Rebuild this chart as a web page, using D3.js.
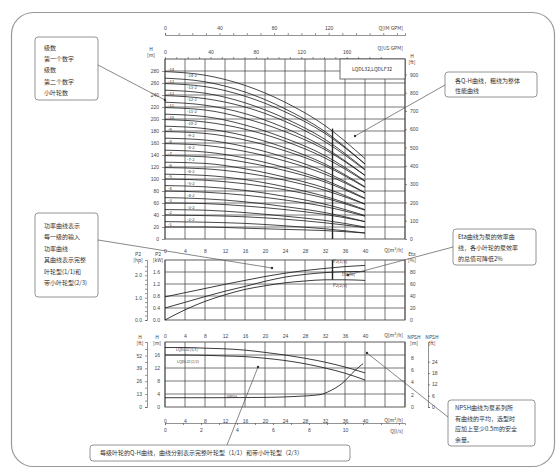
<!DOCTYPE html>
<html>
<head>
<meta charset="utf-8">
<script src="https://cdn.jsdelivr.net/npm/d3@7"></script>
<style>
  body { margin: 0; background: #fff; }
  svg { display: block; font-family: "Noto Sans CJK SC", "Noto Sans", sans-serif; }
</style>
</head>
<body>
<svg id="chart" width="557" height="471"></svg>
<script>
// flow points (m3/h) used for the Q-H curves of the pump series
const qhFlow = [0, 8, 16, 24, 32, 40];
// full impeller curves, label = stages
const fullStages = [14, 13, 12, 11, 10, 9, 8, 7, 6, 5, 4, 3, 2, 1];
const fullHead = [
  [279, 273, 256, 228, 189, 134],
  [259, 254, 238, 212, 176, 125],
  [239, 234, 220, 196, 162, 115],
  [219, 215, 201, 179, 149, 106],
  [199, 195, 183, 163, 135, 96],
  [179, 176, 165, 147, 122, 86],
  [159, 156, 146, 130, 108, 77],
  [139, 137, 128, 114, 95, 67],
  [119, 117, 110, 98, 81, 58],
  [100, 98, 92, 82, 68, 48],
  [80, 78, 73, 65, 54, 38],
  [60, 59, 55, 49, 41, 29],
  [40, 39, 37, 33, 27, 19],
  [20, 20, 18, 16, 14, 10]
];
// curves with two reduced impellers
const reducedStages = [14, 13, 12, 11, 10, 9, 8, 7, 6, 5, 4, 3, 2];
const reducedHead = [
  [268, 262, 245, 217, 179, 125],
  [248, 243, 227, 201, 166, 116],
  [228, 223, 209, 185, 152, 106],
  [208, 204, 190, 168, 139, 97],
  [188, 184, 172, 152, 125, 87],
  [168, 165, 154, 136, 112, 77],
  [148, 145, 135, 119, 98, 68],
  [128, 126, 117, 103, 85, 58],
  [108, 106, 99, 87, 71, 49],
  [89, 87, 81, 71, 58, 39],
  [69, 67, 62, 54, 44, 29],
  [49, 48, 44, 38, 31, 20],
  [29, 28, 26, 22, 17, 10]
];
const bepFlow = 33.5;
const bepHead = 184;
const bepEta = 67;

// power / efficiency
const flowB = [0, 4, 8, 12, 16, 20, 24, 28, 32, 36, 40];
const p2Full = [0.77, 0.91, 1.05, 1.19, 1.32, 1.45, 1.56, 1.65, 1.72, 1.78, 1.82];
const p2Reduced = [0.40, 0.59, 0.78, 0.96, 1.12, 1.29, 1.43, 1.52, 1.58, 1.61, 1.62];
const eta = [0, 17, 31, 42, 51, 57, 62, 65, 67, 67, 66];

// single stage head + NPSH
const headFull = [18.3, 18.3, 18.1, 17.9, 17.5, 16.8, 16.0, 15.0, 13.8, 12.3, 10.5];
const headReduced = [16.0, 16.0, 15.9, 15.7, 15.5, 15.0, 14.3, 13.3, 12.0, 10.4, 8.3];
const npshFlow = [0, 10, 20, 26, 31, 33, 35.4, 38, 39.6];
const npsh = [1.5, 1.5, 1.55, 1.7, 2.0, 2.6, 3.8, 5.9, 7.0];

const qTicks = [0, 4, 8, 12, 16, 20, 24, 28, 32, 36, 40];
const qGrid = d3.range(0, 49, 4);

const svg = d3.select("#chart");
const grey = "#4a4a4a";
const fs = 5;

svg.append("rect").attr("x", 11.5).attr("y", 12.5).attr("width", 543).attr("height", 454)
  .attr("rx", 22).attr("fill", "none").attr("stroke", "#999").attr("stroke-width", 1.2);

const x = d3.scaleLinear().domain([0, 48]).range([165, 405]);
const yMain = d3.scaleLinear().domain([0, 300]).range([239, 59]);
const yMainFt = d3.scaleLinear().domain([0, 300 * 3.281]).range([239, 59]);
const yKw = d3.scaleLinear().domain([0, 2]).range([320, 260]);
const yHp = d3.scaleLinear().domain([0, 2 * 1.341]).range([320, 260]);
const yEta = d3.scaleLinear().domain([0, 100]).range([320, 260]);
const yH1 = d3.scaleLinear().domain([0, 20]).range([407, 342]);
const yH1Ft = d3.scaleLinear().domain([0, 20 * 3.281]).range([407, 342]);
const yNp = d3.scaleLinear().domain([0, 10.5]).range([407, 342]);
const yNpFt = d3.scaleLinear().domain([0, 10.5 * 3.281]).range([407, 342]);

function grid(yScale, yVals) {
  const g = svg.append("g").attr("stroke", grey).attr("stroke-width", 0.75);
  qGrid.forEach(q => g.append("line").attr("x1", x(q)).attr("x2", x(q))
    .attr("y1", yScale.range()[0]).attr("y2", yScale.range()[1]));
  yVals.forEach(v => g.append("line").attr("x1", x(0)).attr("x2", x(48))
    .attr("y1", yScale(v)).attr("y2", yScale(v)));
  g.append("rect").attr("x", x(0)).attr("y", yScale.range()[1]).attr("width", x(48) - x(0))
    .attr("height", yScale.range()[0] - yScale.range()[1]).attr("fill", "none").attr("stroke-width", 0.9);
}

function styleAxis(g) {
  g.selectAll("text").attr("font-size", fs).attr("fill", "#444");
  g.selectAll("line").attr("stroke", grey).attr("stroke-width", 0.6);
  g.select(".domain").attr("stroke", grey).attr("stroke-width", 0.6);
}

function qAxis(yPos) {
  svg.append("g").attr("transform", `translate(0,${yPos})`)
    .call(d3.axisBottom(x).tickValues(qTicks).tickSize(0).tickPadding(4))
    .call(g => g.select(".domain").remove())
    .call(styleAxis);
  svg.append("text").attr("x", 403).attr("y", yPos + 7).attr("text-anchor", "end")
    .attr("font-size", fs).attr("fill", "#444").text("Q[m³/h]");
}

function label(xp, yp, lines, anchor) {
  lines.forEach((t, i) => svg.append("text").attr("x", xp).attr("y", yp + i * 5.5)
    .attr("text-anchor", anchor || "middle").attr("font-size", fs).attr("fill", "#444").text(t));
}

// ---- main Q-H chart
grid(yMain, d3.range(20, 300, 20));
svg.append("g").attr("transform", "translate(165,0)")
  .call(d3.axisLeft(yMain).tickValues(d3.range(0, 300, 20)).tickSize(3).tickPadding(3))
  .call(g => g.select(".domain").remove()).call(styleAxis);
svg.append("g").attr("transform", "translate(405,0)")
  .call(d3.axisRight(yMainFt).tickValues(d3.range(0, 1000, 100)).tickSize(2).tickPadding(3))
  .call(g => g.select(".domain").remove()).call(styleAxis);
label(151, 51, ["H", "[m]"]);
label(412, 58, ["H", "[ft]"]);
qAxis(245);

// top flow axes
const xIm = d3.scaleLinear().domain([0, 48 / 0.2728]).range([165, 405]);
const xUs = d3.scaleLinear().domain([0, 48 / 0.2271]).range([165, 405]);
svg.append("g").attr("transform", "translate(0,35)")
  .call(d3.axisTop(xIm).tickValues(d3.range(0, 176, 10)).tickSize(2).tickFormat(d => d % 40 === 0 && d < 160 ? d : ""))
  .call(styleAxis);
svg.append("g").attr("transform", "translate(0,59)")
  .call(d3.axisTop(xUs).tickValues(d3.range(0, 200, 10)).tickSize(2).tickFormat(d => d % 40 === 0 ? d : ""))
  .call(g => g.select(".domain").remove()).call(styleAxis);
svg.append("text").attr("x", 403).attr("y", 30).attr("text-anchor", "end").attr("font-size", fs).attr("fill", "#444").text("Q[IM GPM]");
svg.append("text").attr("x", 403).attr("y", 50).attr("text-anchor", "end").attr("font-size", fs).attr("fill", "#444").text("Q[US GPM]");

// model box
svg.append("rect").attr("x", 340).attr("y", 59).attr("width", 65).attr("height", 20)
  .attr("fill", "#fff").attr("stroke", grey).attr("stroke-width", 0.8);
svg.append("text").attr("x", 372).attr("y", 71).attr("text-anchor", "middle").attr("font-size", fs)
  .attr("fill", "#333").text("LQDL32,LQDLF32");

const qhLine = d3.line().x((d, i) => x(qhFlow[i])).y(d => yMain(d)).curve(d3.curveMonotoneX);
const curves = svg.append("g").attr("fill", "none").attr("stroke", "#1a1a1a").attr("stroke-width", 0.8);
fullHead.forEach(h => curves.append("path").attr("d", qhLine(h)));
reducedHead.forEach(h => curves.append("path").attr("d", qhLine(h)));

fullStages.forEach((s, i) => svg.append("text").attr("x", 168).attr("y", yMain(fullHead[i][0]) - 1)
  .attr("font-size", 4.2).attr("fill", "#333").text("-" + s));
reducedStages.forEach((s, i) => svg.append("text").attr("x", 187).attr("y", yMain(reducedHead[i][0]) - 1)
  .attr("font-size", 4.2).attr("fill", "#333").text("-" + s + "-2"));

// ---- P2 / Eta chart
grid(yKw, [0.4, 0.8, 1.2, 1.6]);
svg.append("g").attr("transform", "translate(165,0)")
  .call(d3.axisLeft(yKw).tickValues([0, 0.4, 0.8, 1.2, 1.6]).tickFormat(d3.format(".1f")).tickSize(0).tickPadding(5))
  .call(g => g.select(".domain").remove()).call(styleAxis);
svg.append("g").attr("transform", "translate(147,0)")
  .call(d3.axisLeft(yHp).tickValues(d3.range(0, 2.6, 0.2)).tickSize(2).tickPadding(3)
    .tickFormat(d => Math.abs(d - Math.round(d)) < 0.01 ? d3.format(".1f")(d) : ""))
  .call(styleAxis);
svg.append("g").attr("transform", "translate(405,0)")
  .call(d3.axisRight(yEta).tickValues([0, 20, 40, 60, 80]).tickSize(0).tickPadding(5))
  .call(g => g.select(".domain").remove()).call(styleAxis);
label(138, 256, ["P2", "[hp]"]);
label(158, 256, ["P2", "[kW]"]);
label(412, 256, ["Eta", "[%]"]);
qAxis(330);

const lineB = scale => d3.line().x((d, i) => x(flowB[i])).y(d => scale(d)).curve(d3.curveMonotoneX);
const mid = svg.append("g").attr("fill", "none").attr("stroke", "#1a1a1a").attr("stroke-width", 0.85);
mid.append("path").attr("d", lineB(yKw)(p2Full));
mid.append("path").attr("d", lineB(yKw)(p2Reduced));
mid.append("path").attr("d", lineB(yEta)(eta));
svg.append("text").attr("x", 333).attr("y", 263).attr("font-size", 4.2).attr("fill", "#333").text("P2(1/1)");
svg.append("text").attr("x", 342).attr("y", 276).attr("font-size", 4.2).attr("fill", "#333").text("Eta(%)");
svg.append("text").attr("x", 333).attr("y", 287).attr("font-size", 4.2).attr("fill", "#333").text("P2(2/3)");

// best efficiency marker line
svg.append("line").attr("x1", x(bepFlow)).attr("x2", x(bepFlow))
  .attr("y1", yMain(bepHead)).attr("y2", yMain(0)).attr("stroke", "#222").attr("stroke-width", 1.4);
svg.append("line").attr("x1", x(bepFlow)).attr("x2", x(bepFlow)).attr("y1", yEta(100)).attr("y2", yEta(bepEta))
  .attr("stroke", "#222").attr("stroke-width", 1.4);

// ---- single stage H / NPSH chart
grid(yH1, [4, 8, 12, 16]);
svg.append("g").attr("transform", "translate(165,0)")
  .call(d3.axisLeft(yH1).tickValues([0, 4, 8, 12, 16]).tickSize(0).tickPadding(5))
  .call(g => g.select(".domain").remove()).call(styleAxis);
svg.append("g").attr("transform", "translate(147,0)")
  .call(d3.axisLeft(yH1Ft).tickValues(d3.range(0, 60, 6.5)).tickSize(2).tickPadding(3)
    .tickFormat(d => Math.round(d) % 13 === 0 ? Math.round(d) : ""))
  .call(styleAxis);
svg.append("g").attr("transform", "translate(405,0)")
  .call(d3.axisRight(yNp).tickValues([0, 2, 4, 6, 8]).tickSize(0).tickPadding(6))
  .call(g => g.select(".domain").remove()).call(styleAxis);
svg.append("g").attr("transform", "translate(428,0)")
  .call(d3.axisRight(yNpFt).tickValues([0, 6, 12, 18, 24]).tickSize(2).tickPadding(2))
  .call(styleAxis);
label(140, 339, ["H", "[ft]"]);
label(157, 339, ["H", "[m]"]);
label(414, 339, ["NPSH", "[m]"]);
label(432, 339, ["NPSH", "[ft]"]);
qAxis(415);

const xLs = d3.scaleLinear().domain([0, 48 / 3.6]).range([165, 405]);
svg.append("g").attr("transform", "translate(0,423)")
  .call(d3.axisBottom(xLs).tickValues(d3.range(0, 13.3, 1)).tickSize(2).tickPadding(3)
    .tickFormat(d => d % 2 === 0 && d <= 10 ? d : ""))
  .call(styleAxis);
svg.append("text").attr("x", 403).attr("y", 433).attr("text-anchor", "end").attr("font-size", fs).attr("fill", "#444").text("Q[l/s]");

const low = svg.append("g").attr("fill", "none").attr("stroke", "#1a1a1a").attr("stroke-width", 0.85);
low.append("path").attr("d", lineB(yH1)(headFull));
low.append("path").attr("d", lineB(yH1)(headReduced));
low.append("path").attr("d", d3.line().x((d, i) => x(npshFlow[i])).y(d => yNp(d)).curve(d3.curveMonotoneX)(npsh));
svg.append("text").attr("x", 176).attr("y", 351).attr("font-size", 3.8).attr("fill", "#333").text("LQDL32(1/1)");
svg.append("text").attr("x", 177).attr("y", 363).attr("font-size", 3.8).attr("fill", "#333").text("LQDL32(2/3)");
svg.append("text").attr("x", 227).attr("y", 398).attr("font-size", 3.8).attr("fill", "#333").text("NPSH");

// ---- annotations
function note(bx, by, bw, bh, lines, tx, ty, lineGap) {
  svg.append("rect").attr("x", bx).attr("y", by).attr("width", bw).attr("height", bh).attr("rx", 3)
    .attr("fill", "#fff").attr("stroke", "#888").attr("stroke-width", 0.9);
  lines.forEach((t, i) => svg.append("text").attr("x", tx).attr("y", ty + i * lineGap)
    .attr("font-size", 6).attr("fill", "#333").text(t));
}
function leader(x1, y1, x2, y2) {
  svg.append("line").attr("x1", x1).attr("y1", y1).attr("x2", x2).attr("y2", y2)
    .attr("stroke", "#555").attr("stroke-width", 0.7);
  svg.append("circle").attr("cx", x2).attr("cy", y2).attr("r", 1.2).attr("fill", "#333");
}

note(35, 37, 63, 63, ["级数", "第一个数字", "级数", "第二个数字", "小叶轮数"], 44, 50, 11.2);
leader(98, 65, 165, 100);
note(445, 72, 92, 25, ["各Q-H曲线，粗线为整体", "性能曲线"], 455, 83, 10);
leader(445, 85, 355, 136);
note(35, 213, 63, 84, ["功率曲线表示", "每一级的输入", "功率曲线", "其曲线表示完整", "叶轮型(1/1)和", "带小叶轮型(2/3)"], 44, 228, 11.4);
leader(98, 240, 272, 268);
note(453, 229, 83, 36, ["Eta曲线为泵的效率曲", "线，各小叶轮的泵效率", "的总值可降低2%"], 458, 239, 11);
leader(453, 247, 348, 275);
note(448, 400, 87, 46, ["NPSH曲线为泵系列所", "有曲线的平均，选型时", "应加上至少0.5m的安全", "余量。"], 455, 410, 10.5);
leader(448, 417, 367, 353);
note(90, 445, 260, 16, ["每级叶轮的Q-H曲线，曲线分别表示完整叶轮型（1/1）和带小叶轮型（2/3）"], 100, 455, 0);
leader(227, 445, 258, 367);
</script>
</body>
</html>
